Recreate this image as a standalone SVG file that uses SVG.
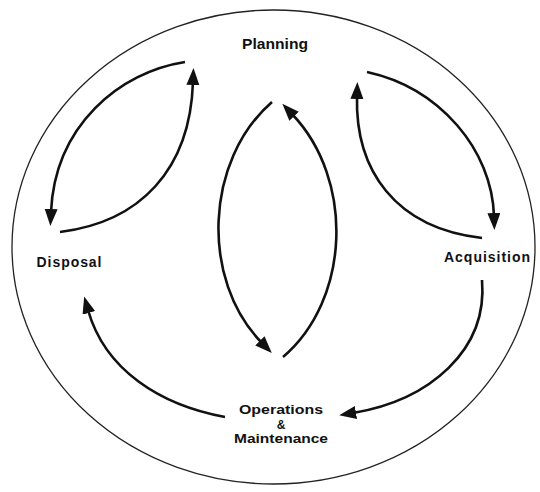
<svg xmlns="http://www.w3.org/2000/svg" width="540" height="492" viewBox="0 0 540 492">
<style>
.lbl{font-family:"Liberation Sans",Arial,sans-serif;font-weight:bold;font-size:14px;fill:#111;text-anchor:middle}
.om{font-size:12px}
.arr{fill:none;stroke:#111;stroke-width:2.6;marker-end:url(#ah)}
</style>
<defs>
<marker id="ah" markerUnits="userSpaceOnUse" markerWidth="20" markerHeight="14" refX="3" refY="6.5" orient="auto">
<path d="M0,0 L17,6.5 L0,13 z" fill="#111"/>
</marker>
</defs>
<rect width="540" height="492" fill="#fff"/>
<ellipse cx="273.5" cy="247" rx="261.5" ry="237" fill="none" stroke="#222" stroke-width="1.3"/>
<g id="planning"><text class="lbl" x="275" y="49" textLength="66" lengthAdjust="spacingAndGlyphs">Planning</text></g>
<g id="disposal"><text class="lbl" x="69" y="267" textLength="65" lengthAdjust="spacing">Disposal</text></g>
<g id="acquisition"><text class="lbl" x="487" y="262" textLength="86" lengthAdjust="spacing">Acquisition</text></g>
<g id="om">
<text class="lbl om" x="281" y="414" textLength="84" lengthAdjust="spacingAndGlyphs">Operations</text>
<text class="lbl om" x="281" y="428.5">&amp;</text>
<text class="lbl om" x="281" y="443" textLength="94" lengthAdjust="spacingAndGlyphs">Maintenance</text>
</g>
<g id="connectors">
<path class="arr" d="M185,62 C120,72 55,125 51,212"/>
<path class="arr" d="M60,232 C140,222 190,170 193,82"/>
<path class="arr" d="M272,102 C205,160 200,280 262,343"/>
<path class="arr" d="M283,357 C350,300 355,180 292,114"/>
<path class="arr" d="M367,72 C440,88 492,150 494,216"/>
<path class="arr" d="M482,238 C395,228 355,170 357,96"/>
<path class="arr" d="M482,280 C488,350 430,400 353,413"/>
<path class="arr" d="M225,417 C160,405 105,370 88,310"/>
</g>
</svg>
